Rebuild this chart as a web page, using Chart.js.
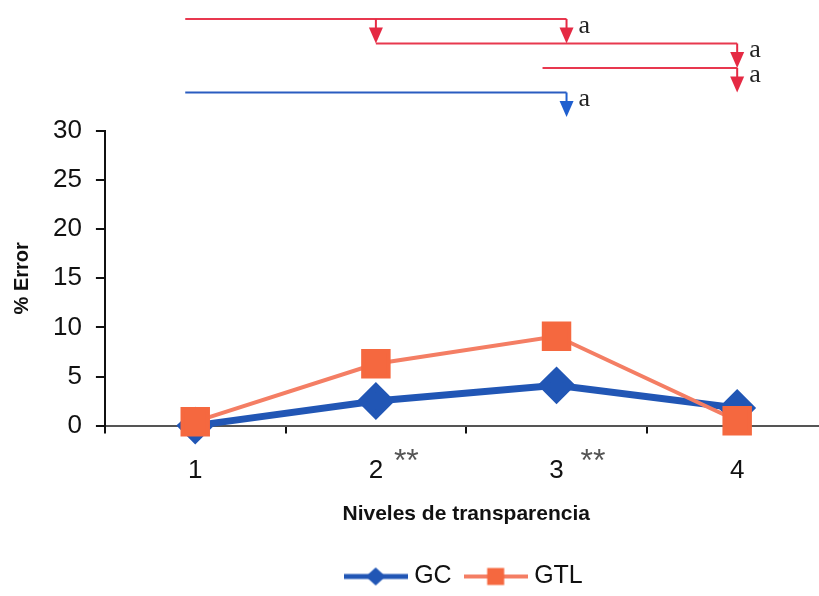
<!DOCTYPE html>
<html>
<head>
<meta charset="utf-8">
<script src="https://cdn.jsdelivr.net/npm/chart.js@4/dist/chart.umd.min.js"></script>
<style>
  html, body { margin: 0; padding: 0; background: #fff; overflow: hidden; }
  canvas { display: block; }
</style>
</head>
<body>
<canvas id="myChart" width="830" height="596"></canvas>
<script>
// data
const levels = ['1', '2', '3', '4'];
const levelMarks = ['', '**', '**', ''];
const gcValues = [0, 2.5, 4.1, 1.8];
const gtlValues = [0.4, 6.3, 9.1, 0.5];
const yTicks = [0, 5, 10, 15, 20, 25, 30];

// comparisons shown above the plot: [from level index, [arrow target indexes]]
const redLinks = [[0, [1, 2]], [1, [3]], [2, [3]]];
const blueLinks = [[0, [2]]];
const linkLabel = 'a';

const blue = '#2156b5';
const salmon = '#f47e64';
const orange = '#f5683f';
const red = '#e8384f';
const linkBlue = '#2a5cc0';
const sans = '"Liberation Sans", Arial, sans-serif';

function legendIcon(kind) {
    const c = document.createElement('canvas');
    c.width = 64;
    c.height = 22;
    const g = c.getContext('2d');
    g.lineWidth = kind === 'gc' ? 5 : 4;
    g.strokeStyle = kind === 'gc' ? blue : salmon;
    g.beginPath();
    g.moveTo(0, 11);
    g.lineTo(64, 11);
    g.stroke();
    if (kind === 'gc') {
        g.fillStyle = blue;
        g.beginPath();
        g.moveTo(32, 2);
        g.lineTo(42, 11);
        g.lineTo(32, 20);
        g.lineTo(22, 11);
        g.closePath();
        g.fill();
    } else {
        g.fillStyle = orange;
        g.fillRect(23.5, 2.5, 17, 17);
    }
    return c;
}
const legendIcons = [legendIcon('gc'), legendIcon('gtl')];

const extras = {
    id: 'extras',
    afterDraw(chart) {
        const ctx = chart.ctx;
        const x = chart.scales.x;
        const px = i => x.getPixelForValue(i);
        const startX = i => px(i) + [-10, 0, -14, 0][i];
        const arrowX = i => px(i) + (i === 2 ? 10 : 0);
        const rows = [19, 43.5, 68, 92.5];
        const rowGap = 24.5;

        function drawRow(link, y, lineCol, headCol) {
            const from = link[0], targets = link[1];
            const endX = arrowX(targets[targets.length - 1]);
            ctx.strokeStyle = lineCol;
            ctx.lineWidth = 2;
            ctx.beginPath();
            ctx.moveTo(startX(from), y);
            ctx.lineTo(endX, y);
            ctx.stroke();
            targets.forEach(t => {
                const ax = arrowX(t);
                const tip = y + rowGap;
                ctx.strokeStyle = headCol;
                ctx.beginPath();
                ctx.moveTo(ax, y);
                ctx.lineTo(ax, tip - 14);
                ctx.stroke();
                ctx.fillStyle = headCol;
                ctx.beginPath();
                ctx.moveTo(ax - 7, tip - 16);
                ctx.lineTo(ax + 7, tip - 16);
                ctx.lineTo(ax, tip);
                ctx.closePath();
                ctx.fill();
            });
            ctx.fillStyle = '#222';
            ctx.font = '26px "Liberation Serif", serif';
            ctx.textAlign = 'left';
            ctx.textBaseline = 'alphabetic';
            ctx.fillText(linkLabel, endX + 12, y + 13.5);
        }

        ctx.save();
        redLinks.forEach((l, k) => drawRow(l, rows[k], red, '#e52a44'));
        blueLinks.forEach((l, k) => drawRow(l, rows[redLinks.length + k], linkBlue, '#1f5fcf'));

        // ** next to the level labels
        ctx.fillStyle = '#555';
        ctx.font = '32px ' + sans;
        ctx.textAlign = 'left';
        ctx.textBaseline = 'top';
        levelMarks.forEach((m, i) => {
            if (m) ctx.fillText(m, px(i) + 18 + (i === 2 ? 6 : 0), x.top + 21);
        });
        ctx.restore();
    }
};

const ctx = document.getElementById('myChart').getContext('2d');

const myChart = new Chart(ctx, {
    type: 'line',
    data: {
        labels: levels,
        datasets: [{
            label: 'GC',
            data: gcValues,
            borderColor: blue,
            backgroundColor: blue,
            borderWidth: 7,
            pointStyle: 'rectRot',
            pointRadius: 14,
            pointHoverRadius: 14,
            pointBackgroundColor: blue,
            pointBorderColor: blue,
            lineTension: 0,
            clip: false,
            order: 1
        }, {
            label: 'GTL',
            data: gtlValues,
            borderColor: salmon,
            backgroundColor: orange,
            borderWidth: 4,
            pointStyle: 'rect',
            pointRadius: 18,
            pointHoverRadius: 18,
            pointBackgroundColor: orange,
            pointBorderColor: orange,
            lineTension: 0,
            clip: false,
            order: 0
        }]
    },
    options: {
        responsive: false,
        animation: false,
        layout: {
            autoPadding: false,
            padding: { top: 131, left: 10, right: 2.5, bottom: -3 }
        },
        plugins: {
            tooltip: { enabled: false },
            legend: {
                display: true,
                position: 'bottom',
                fullSize: false,
                labels: {
                    usePointStyle: true,
                    pointStyleWidth: 52,
                    padding: 18,
                    color: '#111',
                    font: { family: sans, size: 25 },
                    generateLabels: chart => chart.data.datasets.map((ds, i) => ({
                        text: ds.label,
                        pointStyle: legendIcons[i],
                        datasetIndex: i,
                        fontColor: '#111',
                        lineWidth: 0,
                        strokeStyle: 'transparent',
                        fillStyle: 'transparent'
                    }))
                }
            }
        },
        scales: {
            x: {
                offset: true,
                grid: {
                    offset: true,
                    drawOnChartArea: false,
                    drawTicks: true,
                    tickLength: 8,
                    color: '#111',
                    lineWidth: 2
                },
                border: { color: '#555', width: 2 },
                ticks: {
                    color: '#111',
                    padding: 22,
                    font: { family: sans, size: 26 }
                },
                title: {
                    display: true,
                    text: 'Niveles de transparencia',
                    color: '#111',
                    font: { family: sans, size: 21, weight: 'bold' },
                    padding: { top: -7, bottom: 19 }
                }
            },
            y: {
                min: 0,
                max: 30,
                afterBuildTicks: scale => { scale.ticks = yTicks.map(v => ({ value: v })); },
                grid: {
                    drawOnChartArea: false,
                    drawTicks: true,
                    tickLength: 9,
                    color: '#111',
                    lineWidth: 2
                },
                border: { color: '#111', width: 2 },
                ticks: {
                    color: '#111',
                    padding: 14,
                    font: { family: sans, size: 26 }
                },
                title: {
                    display: true,
                    text: '% Error',
                    color: '#111',
                    font: { family: sans, size: 20, weight: 'bold' },
                    padding: { top: 0, bottom: 5 }
                }
            }
        }
    },
    plugins: [extras]
});
</script>
</body>
</html>
